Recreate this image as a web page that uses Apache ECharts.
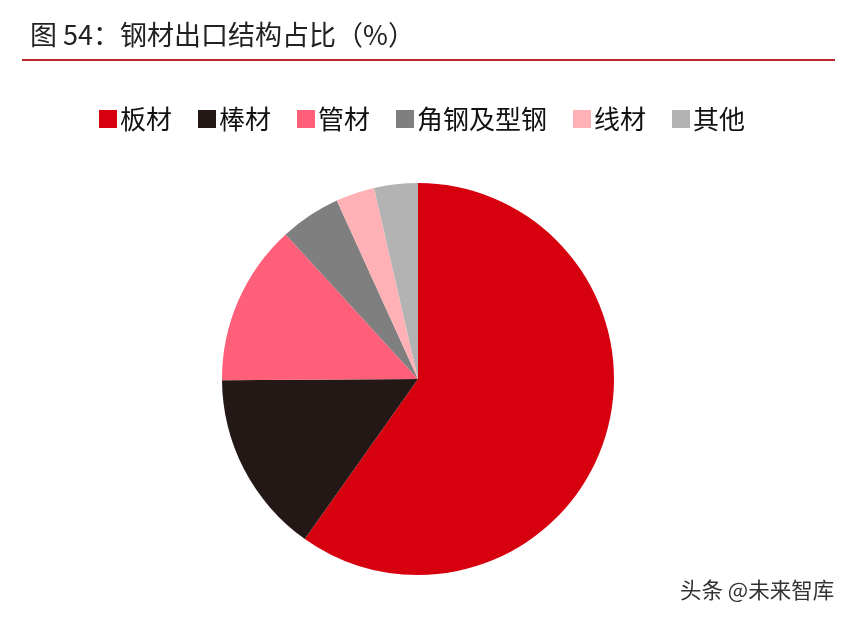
<!DOCTYPE html>
<html><head><meta charset="utf-8">
<script src="https://cdn.jsdelivr.net/npm/echarts@6/dist/echarts.min.js"></script>
<style>html,body{margin:0;padding:0;background:#fff}#c{width:851px;height:622px}</style>
</head><body><div id="c"></div>
<script>
const categories = ['板材','棒材','管材','角钢及型钢','线材','其他'];
const shares = [59.8, 15.1, 13.3, 5.0, 3.2, 3.6];
const colors = ['#D7000F','#231815','#FF5F78','#7F7F7F','#FFB1B5','#B3B3B3'];
const titleText = '图 54：钢材出口结构占比（%）';
const sourceText = '头条 @未来智库';
const FONT = '"Noto Sans CJK SC", "Noto Sans", sans-serif';

const chart = echarts.init(document.getElementById('c'));
chart.setOption({
  backgroundColor: '#fff',
  animation: false,
  color: colors,
  legend: {
    data: categories,
    left: 94,
    top: 101,
    itemWidth: 18,
    itemHeight: 18,
    itemGap: 26,
    icon: 'rect',
    textStyle: { fontSize: 26, color: '#111', fontFamily: FONT, padding: [0,0,0,-2] }
  },
  graphic: [
    { type: 'text', left: 30, top: 21, style: { text: titleText, fontSize: 27, fill: '#222', fontFamily: FONT } },
    { type: 'rect', shape: { x: 22, y: 59, width: 813, height: 2 }, style: { fill: '#B8282E' } },
    { type: 'text', left: 680, top: 579, style: { text: sourceText, fontSize: 21.5, fill: '#333', fontFamily: FONT } }
  ],
  series: [{
    type: 'pie',
    center: [418, 379],
    radius: [0, 196],
    startAngle: 90,
    clockwise: true,
    label: { show: false },
    labelLine: { show: false },
    emphasis: { disabled: true },
    data: categories.map((n, i) => ({ name: n, value: shares[i] }))
  }]
});
</script></body></html>
